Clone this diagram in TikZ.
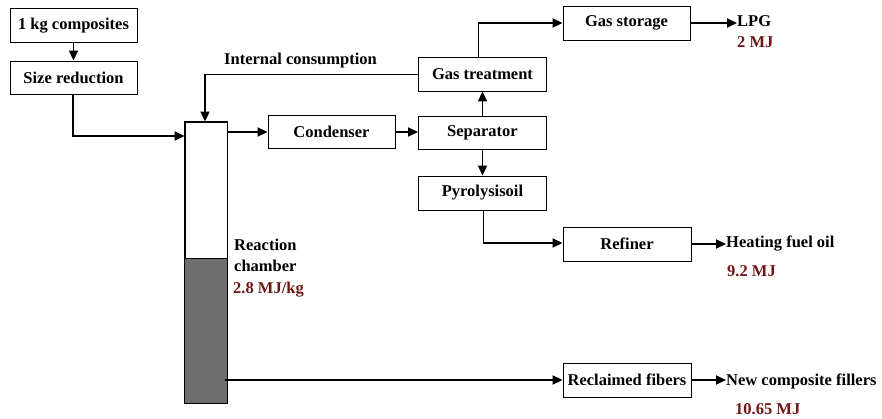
\documentclass[tikz,border=0pt]{standalone}
\usepackage{fontspec}
\setmainfont{Liberation Serif}
\usetikzlibrary{arrows.meta}
\definecolor{darkred}{RGB}{110,22,22}
\definecolor{chgray}{RGB}{110,110,110}
\begin{document}
\begin{tikzpicture}[x=1pt,y=-1pt,
  box/.style={draw,line width=0.9pt,minimum width=127pt,minimum height=34pt,inner sep=0pt,font=\fontsize{16.5}{18}\bfseries\selectfont},
  lbl/.style={inner sep=0pt,anchor=west,font=\fontsize{16.5}{18}\bfseries\selectfont},
  val/.style={lbl,text=darkred},
  conn/.style={line width=1.8pt,-{Triangle[length=10pt,width=9pt]}},
  thinl/.style={line width=0.9pt}]
\useasboundingbox (0,0) rectangle (882,419);
\node[box] (comp) at (73.5,25.5) {1 kg composites};
\node[box,minimum height=33pt] (size) at (73.5,77.5) {Size reduction};
\node[draw,line width=0.9pt,minimum width=42pt,minimum height=281pt,inner sep=0pt] (ch) at (206,262.5) {};
\fill[chgray] (185,258) rectangle (227,403);
\draw[line width=0.9pt] (185,258) -- (227,258);
\draw[line width=0.9pt] (ch.north west) rectangle (ch.south east);
\node[box,minimum height=33pt] (cond) at (331.5,132) {Condenser};
\node[box,minimum width=128pt,minimum height=33pt] (sep) at (482.5,133) {Separator};
\node[box,minimum width=128pt] (gast) at (482.5,74) {Gas treatment};
\node[box,minimum width=128pt] (pyro) at (482.5,193) {Pyrolysisoil};
\node[box] (stor) at (626.5,23) {Gas storage};
\node[box,minimum width=128pt] (ref) at (627,244) {Refiner};
\node[box,minimum width=128pt] (recl) at (627,380) {Reclaimed fibers};
\node[lbl] (lpg) at (737,21) {LPG};
\node[val] (v1) at (737,42) {2 MJ};
\node[lbl] (hfo) at (726,244) {Heating fuel oil};
\node[val] (v2) at (727,271) {9.2 MJ};
\node[lbl] (ncf) at (726,381) {New composite fillers};
\node[val] (v3) at (735,409) {10.65 MJ};
\node[lbl] (ic) at (224,61) {Internal consumption};
\node[lbl] (rc1) at (234,245) {Reaction};
\node[lbl] (rc2) at (234,266) {chamber};
\node[val] (v0) at (233,290) {2.8 MJ/kg};
\coordinate (icc) at (205,74);
\coordinate (sr) at (73,136);
\coordinate (gt) at (478,23);
\coordinate (po) at (483,243);
\coordinate (chin) at (225,380);
% connectors
\draw[conn] (comp.south) -- (size.north);
\draw[conn] (size.south -| sr) -- (sr) -- (sr -| ch.west);
\draw[thinl] (gast.west) -- (icc);
\draw[conn] (icc) -- (icc |- ch.north);
\draw[conn] (ch.east |- cond.west) -- (cond.west);
\draw[conn] (cond.east) -- (sep.west |- cond.east);
\draw[conn] (sep.north) -- (gast.south);
\draw[conn] (sep.south) -- (pyro.north);
\draw[thinl] (gast.north -| gt) -- (gt);
\draw[conn] (gt) -- (stor.west |- gt);
\draw[conn] (stor.east) -- (lpg.west |- stor.east);
\draw[thinl] (pyro.south -| po) -- (po);
\draw[conn] (po) -- (ref.west |- po);
\draw[conn] (ref.east) -- (hfo.west |- ref.east);
\draw[conn] (chin) -- (recl.west |- chin);
\draw[conn] (recl.east) -- (ncf.west |- recl.east);
\end{tikzpicture}
\end{document}
